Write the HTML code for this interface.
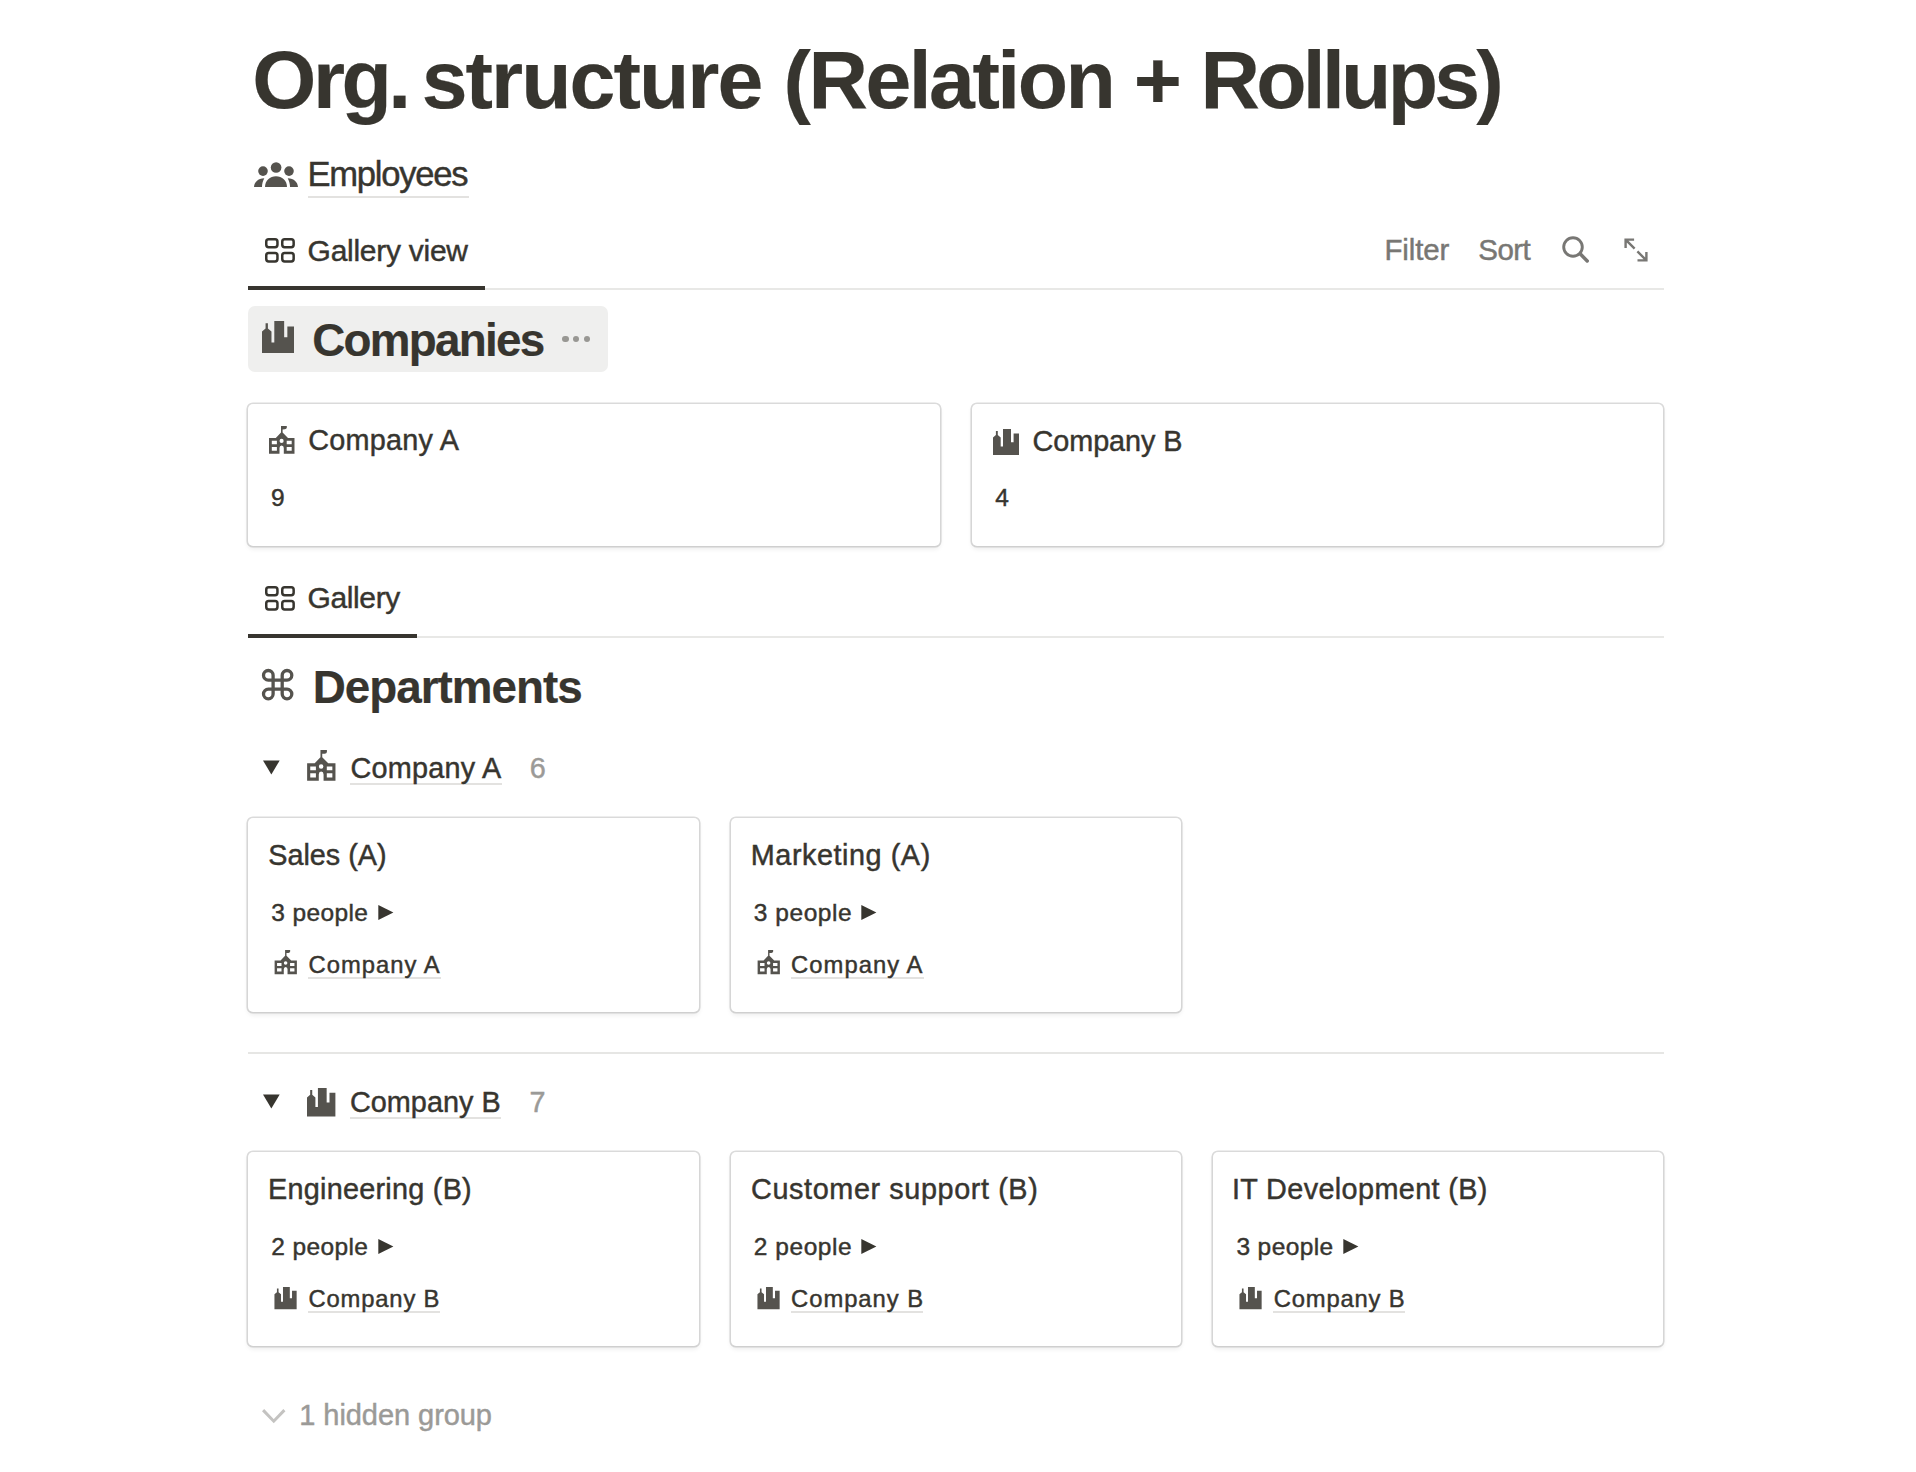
<!DOCTYPE html>
<html><head><meta charset="utf-8"><style>
html,body{margin:0;padding:0;background:#fff;width:1916px;height:1472px;overflow:hidden;position:relative}
.t{position:absolute;white-space:nowrap;font-family:"Liberation Sans",sans-serif;line-height:normal;-webkit-text-stroke:0.45px currentColor}
.r{position:absolute}
.ic{position:absolute;overflow:visible}
.card{position:absolute;background:#fff;border-radius:5px;box-shadow:0 0 0 1.6px rgba(15,15,15,0.14),0 2.5px 5px rgba(15,15,15,0.08)}
</style></head><body>
<div class='r' style='left:248px;top:288px;width:1416px;height:2px;background:#e8e8e6;'></div>
<div class='r' style='left:248px;top:286px;width:237px;height:4px;background:#37352f;'></div>
<div class='r' style='left:248px;top:636px;width:1416px;height:2px;background:#e8e8e6;'></div>
<div class='r' style='left:248px;top:634px;width:169px;height:4px;background:#37352f;'></div>
<div class='r' style='left:248px;top:1052px;width:1416px;height:2px;background:#e6e6e4;'></div>
<div class='r' style='left:248px;top:306px;width:360px;height:66px;background:#efefee;border-radius:7px'></div>
<div class='r' style='left:308px;top:196px;width:161px;height:2px;background:#e3e2e0;'></div>
<div class='r' style='left:350px;top:783px;width:152px;height:2px;background:#e3e2e0;'></div>
<div class='r' style='left:350px;top:1117px;width:151px;height:2px;background:#e3e2e0;'></div>
<div class='card' style='left:247.8px;top:403.6px;width:692.1px;height:142.6px'></div>
<div class='card' style='left:971.8px;top:403.6px;width:691.4px;height:142.6px'></div>
<div class='card' style='left:247.8px;top:817.6px;width:451.0px;height:194.8px'></div>
<div class='card' style='left:730.6px;top:817.6px;width:450.3px;height:194.8px'></div>
<div class='card' style='left:247.8px;top:1151.6px;width:451.0px;height:194.8px'></div>
<div class='card' style='left:730.6px;top:1151.6px;width:450.3px;height:194.8px'></div>
<div class='card' style='left:1212.7px;top:1151.6px;width:450.5px;height:194.8px'></div>
<svg class='ic' style='left:254px;top:162px;width:44px;height:26px' viewBox='0 0 44 26'><g fill='#55534e'><circle cx='22.1' cy='5.5' r='5.3'/><circle cx='9' cy='9.1' r='4.8'/><circle cx='35' cy='9.1' r='4.8'/><path d='M11 25 C11 18.5 16 14.3 22 14.3 C28 14.3 33 18.5 33 25 Z'/><path d='M0 25 C0.4 20.2 3.8 16.6 10.3 16.3 C8.9 18.8 8.1 21.6 7.95 25 Z'/><path d='M44 25 C43.6 20.2 40.2 16.6 33.7 16.3 C35.1 18.8 35.9 21.6 36.05 25 Z'/></g></svg>
<svg class='ic' style='left:265px;top:238px;width:30px;height:25px' viewBox='0 0 30 25'><g fill='none' stroke='#37352f' stroke-width='2.5'><rect x='1.25' y='1.25' width='11.2' height='7.9' rx='2.4'/><rect x='17.25' y='1.25' width='11.4' height='7.9' rx='2.4'/><rect x='1.25' y='14.95' width='11.2' height='8.5' rx='2.4'/><rect x='17.25' y='14.95' width='11.4' height='8.5' rx='2.4'/></g></svg>
<svg class='ic' style='left:265px;top:586px;width:30px;height:25px' viewBox='0 0 30 25'><g fill='none' stroke='#37352f' stroke-width='2.5'><rect x='1.25' y='1.25' width='11.2' height='7.9' rx='2.4'/><rect x='17.25' y='1.25' width='11.4' height='7.9' rx='2.4'/><rect x='1.25' y='14.95' width='11.2' height='8.5' rx='2.4'/><rect x='17.25' y='14.95' width='11.4' height='8.5' rx='2.4'/></g></svg>
<svg class='ic' style='left:1562px;top:236px;width:28px;height:28px' viewBox='0 0 28 28'><g fill='none' stroke='#787774' stroke-width='2.9'><circle cx='11' cy='11' r='9.3'/><path d='M18.4 18.1 L25.2 24.9' stroke-width='3.5' stroke-linecap='round'/></g></svg>
<svg class='ic' style='left:1624px;top:238px;width:24px;height:24px' viewBox='0 0 24 24'><g fill='none' stroke='#787774' stroke-width='2.4'><path d='M10.1 1.6 H1.6 V10.1 M1.6 1.6 L10.6 10.6'/><path d='M13.5 22.4 H22.4 V13.9 M22.4 22.4 L13.4 13.4'/></g></svg>
<svg class='ic' style='left:262px;top:321px;width:32px;height:32px' viewBox='0 0 26 26'><path fill='#55534e' d='M2.9 1.9 H4.8 V6.1 L7.7 8.6 V17.4 H10 V0 H18 V13.2 H20.6 V4.4 H26 V26 H0 V8.6 L2.9 6.1 Z'/></svg>
<div class='r' style='left:562px;top:335.9px;width:6.5px;height:6.5px;border-radius:50%;background:#989793'></div>
<div class='r' style='left:572.8px;top:335.9px;width:6.5px;height:6.5px;border-radius:50%;background:#989793'></div>
<div class='r' style='left:583.6px;top:335.9px;width:6.5px;height:6.5px;border-radius:50%;background:#989793'></div>
<svg class='ic' style='left:269.2px;top:426px;width:25.5px;height:27.7px' viewBox='0 0 25.5 27.7'><path fill='#55534e' fill-rule='evenodd' d='M12 0 H17.8 V1.8 Q17.6 3.2 15.8 3.3 L13.6 3.4 V6.6 L19 11.9 H25.5 V27.7 H14.8 V22 Q14.8 19.6 12.6 19.4 Q10.5 19.6 10.5 22 V27.7 H0 V11.9 H6.8 L12 6.6 Z M2.8 14.8 H7.9 V18.2 H2.8 Z M2.8 20.9 H7.9 V24.7 H2.8 Z M17.7 14.8 H22.7 V18.2 H17.7 Z M17.7 20.9 H22.7 V24.7 H17.7 Z M12.6 14.9 m-2.05 0 a2.05 2.05 0 1 0 4.1 0 a2.05 2.05 0 1 0 -4.1 0 Z'/></svg>
<svg class='ic' style='left:993px;top:429px;width:26px;height:26px' viewBox='0 0 26 26'><path fill='#55534e' d='M2.9 1.9 H4.8 V6.1 L7.7 8.6 V17.4 H10 V0 H18 V13.2 H20.6 V4.4 H26 V26 H0 V8.6 L2.9 6.1 Z'/></svg>
<svg class='ic' style='left:262.1px;top:669.1px;width:32px;height:32px' viewBox='0 0 32 32'><path fill='none' stroke='#55534e' stroke-width='3.3' d='M11.1 6.3 V25.0 M20.2 6.3 V25.0 M6.3 11.1 H25.0 M6.3 20.2 H25.0 M11.1 6.3 A4.8 4.8 0 1 0 6.3 11.1 M20.2 6.3 A4.8 4.8 0 1 1 25.0 11.1 M6.3 20.2 A4.8 4.8 0 1 0 11.1 25.0 M25.0 20.2 A4.8 4.8 0 1 1 20.2 25.0'/></svg>
<svg class='ic' style='left:263.4px;top:760.2px;width:17px;height:15px' viewBox='0 0 17 15'><path fill='#37352f' d='M0 0.4 H16.7 L8.35 14.6 Z'/></svg>
<svg class='ic' style='left:306.5px;top:750px;width:28.6px;height:30.8px' viewBox='0 0 25.5 27.7'><path fill='#55534e' fill-rule='evenodd' d='M12 0 H17.8 V1.8 Q17.6 3.2 15.8 3.3 L13.6 3.4 V6.6 L19 11.9 H25.5 V27.7 H14.8 V22 Q14.8 19.6 12.6 19.4 Q10.5 19.6 10.5 22 V27.7 H0 V11.9 H6.8 L12 6.6 Z M2.8 14.8 H7.9 V18.2 H2.8 Z M2.8 20.9 H7.9 V24.7 H2.8 Z M17.7 14.8 H22.7 V18.2 H17.7 Z M17.7 20.9 H22.7 V24.7 H17.7 Z M12.6 14.9 m-2.05 0 a2.05 2.05 0 1 0 4.1 0 a2.05 2.05 0 1 0 -4.1 0 Z'/></svg>
<svg class='ic' style='left:263.4px;top:1094px;width:17px;height:15px' viewBox='0 0 17 15'><path fill='#37352f' d='M0 0.4 H16.7 L8.35 14.6 Z'/></svg>
<svg class='ic' style='left:306.8px;top:1087.6px;width:28.4px;height:28.4px' viewBox='0 0 26 26'><path fill='#55534e' d='M2.9 1.9 H4.8 V6.1 L7.7 8.6 V17.4 H10 V0 H18 V13.2 H20.6 V4.4 H26 V26 H0 V8.6 L2.9 6.1 Z'/></svg>
<svg class='ic' style='left:262.4px;top:1409px;width:24px;height:15px' viewBox='0 0 24 15'><path fill='none' stroke='#c4c3c1' stroke-width='3' d='M1.1 1.1 L11.75 12.2 L22.4 1.1'/></svg>
<svg class='ic' style='left:377.8px;top:904.8px;width:16px;height:15px' viewBox='0 0 16 15'><path fill='#37352f' d='M0.3 0 L15.4 7.5 L0.3 15 Z'/></svg>
<svg class='ic' style='left:273.6px;top:950px;width:23.5px;height:24.2px' viewBox='0 0 25.5 27.7'><path fill='#55534e' fill-rule='evenodd' d='M12 0 H17.8 V1.8 Q17.6 3.2 15.8 3.3 L13.6 3.4 V6.6 L19 11.9 H25.5 V27.7 H14.8 V22 Q14.8 19.6 12.6 19.4 Q10.5 19.6 10.5 22 V27.7 H0 V11.9 H6.8 L12 6.6 Z M2.8 14.8 H7.9 V18.2 H2.8 Z M2.8 20.9 H7.9 V24.7 H2.8 Z M17.7 14.8 H22.7 V18.2 H17.7 Z M17.7 20.9 H22.7 V24.7 H17.7 Z M12.6 14.9 m-2.05 0 a2.05 2.05 0 1 0 4.1 0 a2.05 2.05 0 1 0 -4.1 0 Z'/></svg>
<div class='r' style='left:308.0px;top:976.5px;width:133px;height:2px;background:#e3e2e0;'></div>
<svg class='ic' style='left:860.7px;top:904.8px;width:16px;height:15px' viewBox='0 0 16 15'><path fill='#37352f' d='M0.3 0 L15.4 7.5 L0.3 15 Z'/></svg>
<svg class='ic' style='left:756.5px;top:950px;width:23.5px;height:24.2px' viewBox='0 0 25.5 27.7'><path fill='#55534e' fill-rule='evenodd' d='M12 0 H17.8 V1.8 Q17.6 3.2 15.8 3.3 L13.6 3.4 V6.6 L19 11.9 H25.5 V27.7 H14.8 V22 Q14.8 19.6 12.6 19.4 Q10.5 19.6 10.5 22 V27.7 H0 V11.9 H6.8 L12 6.6 Z M2.8 14.8 H7.9 V18.2 H2.8 Z M2.8 20.9 H7.9 V24.7 H2.8 Z M17.7 14.8 H22.7 V18.2 H17.7 Z M17.7 20.9 H22.7 V24.7 H17.7 Z M12.6 14.9 m-2.05 0 a2.05 2.05 0 1 0 4.1 0 a2.05 2.05 0 1 0 -4.1 0 Z'/></svg>
<div class='r' style='left:790.9px;top:976.5px;width:133px;height:2px;background:#e3e2e0;'></div>
<svg class='ic' style='left:377.8px;top:1238.8px;width:16px;height:15px' viewBox='0 0 16 15'><path fill='#37352f' d='M0.3 0 L15.4 7.5 L0.3 15 Z'/></svg>
<svg class='ic' style='left:273.9px;top:1287px;width:23.1px;height:22.2px' viewBox='0 0 26 26'><path fill='#55534e' d='M2.9 1.9 H4.8 V6.1 L7.7 8.6 V17.4 H10 V0 H18 V13.2 H20.6 V4.4 H26 V26 H0 V8.6 L2.9 6.1 Z'/></svg>
<div class='r' style='left:308.0px;top:1310.5px;width:132px;height:2px;background:#e3e2e0;'></div>
<svg class='ic' style='left:860.7px;top:1238.8px;width:16px;height:15px' viewBox='0 0 16 15'><path fill='#37352f' d='M0.3 0 L15.4 7.5 L0.3 15 Z'/></svg>
<svg class='ic' style='left:756.8px;top:1287px;width:23.1px;height:22.2px' viewBox='0 0 26 26'><path fill='#55534e' d='M2.9 1.9 H4.8 V6.1 L7.7 8.6 V17.4 H10 V0 H18 V13.2 H20.6 V4.4 H26 V26 H0 V8.6 L2.9 6.1 Z'/></svg>
<div class='r' style='left:790.9px;top:1310.5px;width:132px;height:2px;background:#e3e2e0;'></div>
<svg class='ic' style='left:1343.1px;top:1238.8px;width:16px;height:15px' viewBox='0 0 16 15'><path fill='#37352f' d='M0.3 0 L15.4 7.5 L0.3 15 Z'/></svg>
<svg class='ic' style='left:1239.2px;top:1287px;width:23.1px;height:22.2px' viewBox='0 0 26 26'><path fill='#55534e' d='M2.9 1.9 H4.8 V6.1 L7.7 8.6 V17.4 H10 V0 H18 V13.2 H20.6 V4.4 H26 V26 H0 V8.6 L2.9 6.1 Z'/></svg>
<div class='r' style='left:1273.3px;top:1310.5px;width:132px;height:2px;background:#e3e2e0;'></div>
<div class='t' id='title1' style='left:252.30px;top:31.54px;font-size:82.4px;font-weight:700;color:#37352f;letter-spacing:-3.493px;-webkit-text-stroke-width:0.2px'>Org.</div>
<div class='t' id='title2' style='left:421.70px;top:31.54px;font-size:82.4px;font-weight:700;color:#37352f;letter-spacing:-1.951px;-webkit-text-stroke-width:0.2px'>structure</div>
<div class='t' id='title3' style='left:783.50px;top:31.54px;font-size:82.4px;font-weight:700;color:#37352f;letter-spacing:-2.514px;-webkit-text-stroke-width:0.2px'>(Relation</div>
<div class='t' id='title4' style='left:1133.70px;top:31.54px;font-size:82.4px;font-weight:700;color:#37352f;letter-spacing:-2.826px;-webkit-text-stroke-width:0.2px'>+</div>
<div class='t' id='title5' style='left:1200.50px;top:31.54px;font-size:82.4px;font-weight:700;color:#37352f;letter-spacing:-3.755px;-webkit-text-stroke-width:0.2px'>Rollups)</div>
<div class='t' id='employees' style='left:307.40px;top:155.10px;font-size:34.6px;font-weight:400;color:#37352f;letter-spacing:-1.225px'>Employees</div>
<div class='t' id='galview' style='left:307.60px;top:233.84px;font-size:30px;font-weight:400;color:#37352f;letter-spacing:-0.273px'>Gallery view</div>
<div class='t' id='filter' style='left:1384.40px;top:233.25px;font-size:29.5px;font-weight:400;color:#787774;letter-spacing:-0.120px'>Filter</div>
<div class='t' id='sort' style='left:1478.30px;top:233.25px;font-size:29.5px;font-weight:400;color:#787774;letter-spacing:-0.533px'>Sort</div>
<div class='t' id='companies' style='left:312.20px;top:314.78px;font-size:45.8px;font-weight:700;color:#37352f;letter-spacing:-1.725px;-webkit-text-stroke-width:0.2px'>Companies</div>
<div class='t' id='cardA' style='left:308.30px;top:424.45px;font-size:28.8px;font-weight:400;color:#37352f;letter-spacing:0.225px'>Company A</div>
<div class='t' id='num9' style='left:270.90px;top:484.41px;font-size:24.5px;font-weight:400;color:#37352f;letter-spacing:0.000px'>9</div>
<div class='t' id='cardB' style='left:1032.60px;top:424.95px;font-size:28.8px;font-weight:400;color:#37352f;letter-spacing:-0.075px'>Company B</div>
<div class='t' id='num4' style='left:995.30px;top:484.41px;font-size:24.5px;font-weight:400;color:#37352f;letter-spacing:0.000px'>4</div>
<div class='t' id='gallery' style='left:307.60px;top:581.34px;font-size:30px;font-weight:400;color:#37352f;letter-spacing:-0.400px'>Gallery</div>
<div class='t' id='departments' style='left:312.70px;top:662.28px;font-size:45.8px;font-weight:700;color:#37352f;letter-spacing:-0.980px;-webkit-text-stroke-width:0.2px'>Departments</div>
<div class='t' id='grpA' style='left:350.40px;top:751.95px;font-size:28.8px;font-weight:400;color:#37352f;letter-spacing:0.250px'>Company A</div>
<div class='t' id='cnt6' style='left:529.70px;top:751.88px;font-size:28.8px;font-weight:400;color:#9b9a97;letter-spacing:0.000px'>6</div>
<div class='t' id='grpB' style='left:350.00px;top:1085.95px;font-size:28.8px;font-weight:400;color:#37352f;letter-spacing:0.025px'>Company B</div>
<div class='t' id='cnt7' style='left:529.50px;top:1085.88px;font-size:28.8px;font-weight:400;color:#9b9a97;letter-spacing:0.000px'>7</div>
<div class='t' id='hidden' style='left:299.30px;top:1399.20px;font-size:29px;font-weight:400;color:#9b9a97;letter-spacing:-0.062px'>1 hidden group</div>
<div class='t' id='ct0' style='left:268.30px;top:838.65px;font-size:28.8px;font-weight:400;color:#37352f;letter-spacing:-0.025px'>Sales (A)</div>
<div class='t' id='cp0' style='left:271.20px;top:898.91px;font-size:24.5px;font-weight:400;color:#37352f;letter-spacing:0.400px'>3 people</div>
<div class='t' id='cr0' style='left:308.50px;top:950.56px;font-size:23.8px;font-weight:400;color:#37352f;letter-spacing:1.025px'>Company A</div>
<div class='t' id='ct1' style='left:750.80px;top:838.65px;font-size:28.8px;font-weight:400;color:#37352f;letter-spacing:0.550px'>Marketing (A)</div>
<div class='t' id='cp1' style='left:753.80px;top:898.91px;font-size:24.5px;font-weight:400;color:#37352f;letter-spacing:0.543px'>3 people</div>
<div class='t' id='cr1' style='left:791.10px;top:950.56px;font-size:23.8px;font-weight:400;color:#37352f;letter-spacing:1.025px'>Company A</div>
<div class='t' id='ct2' style='left:268.00px;top:1172.65px;font-size:28.8px;font-weight:400;color:#37352f;letter-spacing:0.257px'>Engineering (B)</div>
<div class='t' id='cp2' style='left:271.20px;top:1232.91px;font-size:24.5px;font-weight:400;color:#37352f;letter-spacing:0.400px'>2 people</div>
<div class='t' id='cr2' style='left:308.50px;top:1284.56px;font-size:23.8px;font-weight:400;color:#37352f;letter-spacing:0.825px'>Company B</div>
<div class='t' id='ct3' style='left:751.10px;top:1172.65px;font-size:28.8px;font-weight:400;color:#37352f;letter-spacing:0.600px'>Customer support (B)</div>
<div class='t' id='cp3' style='left:753.80px;top:1232.91px;font-size:24.5px;font-weight:400;color:#37352f;letter-spacing:0.543px'>2 people</div>
<div class='t' id='cr3' style='left:791.10px;top:1284.56px;font-size:23.8px;font-weight:400;color:#37352f;letter-spacing:0.950px'>Company B</div>
<div class='t' id='ct4' style='left:1231.90px;top:1172.65px;font-size:28.8px;font-weight:400;color:#37352f;letter-spacing:0.376px'>IT Development (B)</div>
<div class='t' id='cp4' style='left:1236.40px;top:1232.91px;font-size:24.5px;font-weight:400;color:#37352f;letter-spacing:0.400px'>3 people</div>
<div class='t' id='cr4' style='left:1273.70px;top:1284.56px;font-size:23.8px;font-weight:400;color:#37352f;letter-spacing:0.825px'>Company B</div>
</body></html>
